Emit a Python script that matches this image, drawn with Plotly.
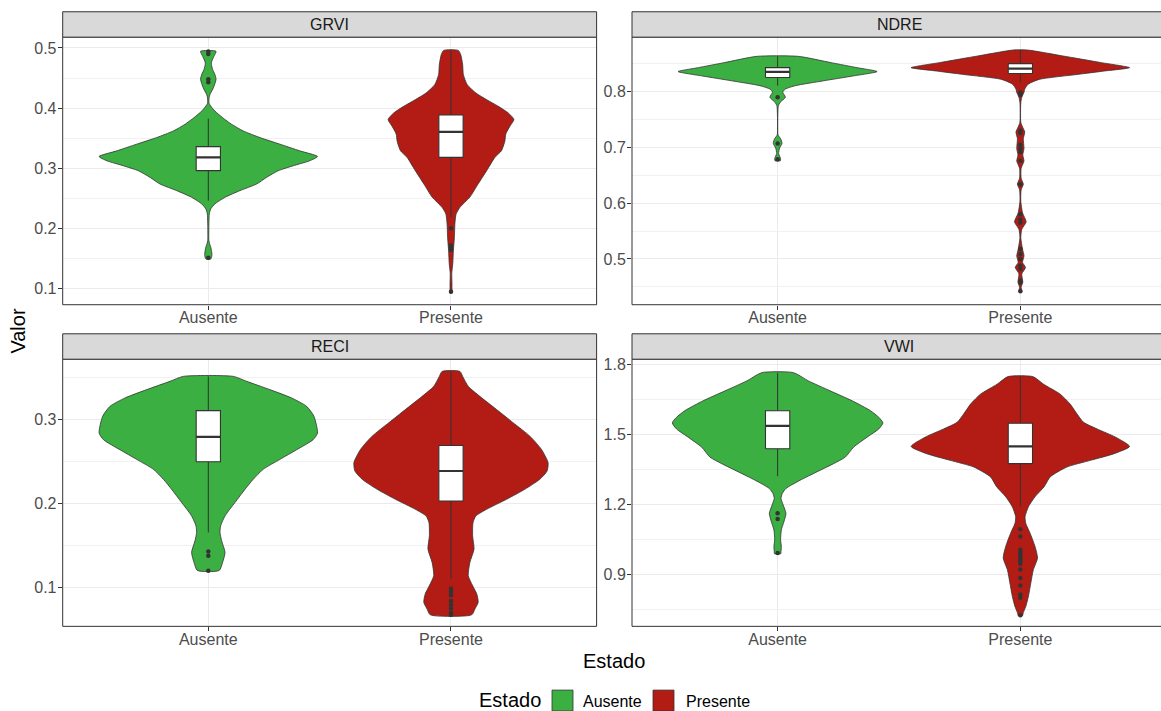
import plotly.graph_objects as go

W, H = 1161, 711

CATEGORIES = ["Ausente", "Presente"]
INDICES = ["GRVI", "NDRE", "RECI", "VWI"]
FILL = {"Ausente": "#3BAF42", "Presente": "#B31C14"}

# ---- violin density profiles: value grid and density relative to the panel maximum ----
grvi_aus_val = [0.149, 0.155, 0.163, 0.169, 0.175, 0.180, 0.205, 0.218, 0.224, 0.2323, 0.2406,
                0.2517, 0.2627, 0.2737, 0.2848, 0.2958, 0.3041, 0.3124, 0.3195, 0.3289, 0.3400,
                0.3510, 0.3620, 0.3731, 0.3841, 0.3951, 0.4034, 0.408, 0.417, 0.423, 0.434,
                0.448, 0.457, 0.464, 0.475, 0.486, 0.4945]
grvi_aus_den = [0.022, 0.033, 0.029, 0.022, 0.011, 0.005, 0.005, 0.007, 0.009, 0.022, 0.06,
                0.153, 0.289, 0.442, 0.533, 0.64, 0.778, 0.929, 1.0, 0.838, 0.656,
                0.473, 0.32, 0.213, 0.131, 0.06, 0.022, 0.007, 0.007, 0.016, 0.047,
                0.071, 0.058, 0.04, 0.027, 0.051, 0.071]
grvi_pre_val = [0.093, 0.100, 0.108, 0.125, 0.141, 0.163, 0.185, 0.208, 0.224, 0.235, 0.252,
                0.274, 0.296, 0.318, 0.329, 0.345, 0.357, 0.370, 0.381, 0.392, 0.403, 0.414,
                0.425, 0.439, 0.456, 0.472, 0.489, 0.496]
grvi_pre_den = [0.011, 0.009, 0.009, 0.007, 0.016, 0.022, 0.031, 0.036, 0.047, 0.082, 0.173,
                0.249, 0.327, 0.402, 0.462, 0.493, 0.502, 0.54, 0.576, 0.524, 0.433, 0.327,
                0.229, 0.149, 0.113, 0.107, 0.089, 0.067]

ndre_aus_val = [0.676, 0.680, 0.689, 0.699, 0.707, 0.716, 0.722, 0.770, 0.775, 0.781, 0.790,
                0.799, 0.8047, 0.8107, 0.8195, 0.828, 0.836, 0.843, 0.852, 0.8633]
ndre_aus_den = [0.024, 0.027, 0.009, 0.018, 0.04, 0.027, 0.004, 0.004, 0.007, 0.024, 0.071,
                0.047, 0.071, 0.162, 0.422, 0.687, 0.911, 0.727, 0.489, 0.191]
ndre_pre_val = [0.4423, 0.4494, 0.4583, 0.4732, 0.4849, 0.4938, 0.5057, 0.5176, 0.5382, 0.5531,
                0.5666, 0.5826, 0.6034, 0.6241, 0.6341, 0.6448, 0.6625, 0.6757, 0.6863, 0.698,
                0.7158, 0.7277, 0.7366, 0.745, 0.780, 0.790, 0.7987, 0.8046, 0.8135, 0.822,
                0.831, 0.837, 0.843, 0.852, 0.864, 0.8746]
ndre_pre_den = [0.013, 0.007, 0.022, 0.013, 0.047, 0.02, 0.033, 0.02, 0.004, 0.013,
                0.053, 0.02, 0.004, 0.007, 0.027, 0.007, 0.007, 0.033, 0.022, 0.033,
                0.027, 0.04, 0.02, 0.004, 0.004, 0.013, 0.033, 0.04, 0.073, 0.173,
                0.529, 0.769, 1.0, 0.742, 0.389, 0.067]

reci_aus_val = [0.120, 0.1296, 0.1415, 0.1554, 0.1653, 0.1732, 0.1851, 0.201, 0.2168, 0.2287,
                0.2406, 0.2525, 0.264, 0.276, 0.284, 0.304, 0.3158, 0.3258, 0.3357, 0.3456, 0.3515]
reci_aus_den = [0.1, 0.131, 0.153, 0.122, 0.107, 0.113, 0.153, 0.244, 0.336, 0.411,
                0.502, 0.656, 0.809, 0.96, 1.0, 0.967, 0.9, 0.762, 0.564, 0.351, 0.229]
reci_pre_val = [0.067, 0.0742, 0.0821, 0.092, 0.1019, 0.1138, 0.1296, 0.1455, 0.1613, 0.1772,
                0.1851, 0.193, 0.2049, 0.2168, 0.2287, 0.2386, 0.2485, 0.2643, 0.2802, 0.296,
                0.3119, 0.3277, 0.3396, 0.3515, 0.3574]
reci_pre_den = [0.189, 0.22, 0.249, 0.236, 0.198, 0.158, 0.173, 0.211, 0.198, 0.202,
                0.229, 0.327, 0.509, 0.676, 0.813, 0.88, 0.889, 0.829, 0.722, 0.571,
                0.418, 0.264, 0.158, 0.107, 0.082]

vwi_aus_val = [0.988, 0.9979, 1.0192, 1.0477, 1.0903, 1.1259, 1.1615, 1.197, 1.2255, 1.2468,
               1.2681, 1.3037, 1.3393, 1.3748, 1.4033, 1.446, 1.4886, 1.5242, 1.55, 1.574,
               1.6024, 1.6451, 1.6878, 1.7304, 1.766]
vwi_aus_den = [0.029, 0.031, 0.034, 0.027, 0.034, 0.058, 0.076, 0.051, 0.031, 0.043,
               0.076, 0.206, 0.358, 0.512, 0.62, 0.696, 0.819, 0.926, 0.964, 0.926,
               0.85, 0.682, 0.481, 0.282, 0.145]
vwi_pre_val = [0.7205, 0.7347, 0.7632, 0.8058, 0.8627, 0.9196, 0.9694, 1.0192, 1.0761, 1.1188,
               1.1472, 1.19, 1.2326, 1.2753, 1.3179, 1.3606, 1.389, 1.4175, 1.4488, 1.4886,
               1.5242, 1.5526, 1.5882, 1.6309, 1.6735, 1.7162, 1.749]
vwi_pre_den = [0.018, 0.027, 0.051, 0.074, 0.096, 0.119, 0.157, 0.134, 0.089, 0.049,
               0.043, 0.074, 0.134, 0.217, 0.273, 0.427, 0.642, 0.857, 1.0, 0.872,
               0.702, 0.579, 0.519, 0.456, 0.365, 0.213, 0.114]

# ---- box statistics per index, [Ausente, Presente] ----
grvi_q1 = [0.296, 0.318]
grvi_med = [0.318, 0.3604]
grvi_q3 = [0.336, 0.3885]
grvi_lo = [0.246, 0.2185]
grvi_hi = [0.3825, 0.496]

ndre_q1 = [0.8254, 0.8325]
ndre_med = [0.8355, 0.8414]
ndre_q3 = [0.843, 0.8503]
ndre_lo = [0.8107, 0.8165]
ndre_hi = [0.8633, 0.8746]

reci_q1 = [0.2497, 0.2029]
reci_med = [0.2794, 0.2386]
reci_q3 = [0.3107, 0.2691]
reci_lo = [0.1653, 0.1098]
reci_hi = [0.3515, 0.3574]

vwi_q1 = [1.4388, 1.3748]
vwi_med = [1.537, 1.4488]
vwi_q3 = [1.6024, 1.5484]
vwi_lo = [1.3208, 1.1927]
vwi_hi = [1.766, 1.749]

# ---- outliers ----
grvi_out_aus = [0.494, 0.490, 0.448, 0.443, 0.151]
grvi_out_pre = [0.200, 0.1716, 0.168, 0.1645, 0.0944]
ndre_out_aus = [0.790, 0.707, 0.6787]
ndre_out_pre = [0.7987, 0.794, 0.730, 0.726, 0.705, 0.698, 0.692, 0.676, 0.634, 0.580,
                0.571, 0.565, 0.518, 0.509, 0.500, 0.488, 0.482, 0.461, 0.458, 0.442]
reci_out_aus = [0.1427, 0.1376, 0.1197]
reci_out_pre = [0.0985, 0.0945, 0.0905, 0.0835, 0.079, 0.0745, 0.0695, 0.067]
vwi_out_aus = [1.1615, 1.137, 0.9907]
vwi_out_pre = [1.0932, 1.0619, 1.005, 0.995, 0.985, 0.975, 0.965, 0.955, 0.945, 0.92,
               0.884, 0.8514, 0.813, 0.799, 0.7233]

# y tick setup per index
Y_TICKS = {"GRVI": (0.1, 0.05), "NDRE": (0.1, 0.05), "RECI": (0.1, 0.05), "VWI": (0.3, 0.15)}
Y_RANGE = {"GRVI": [0.073, 0.518], "NDRE": [0.418, 0.8977],
           "RECI": [0.0533, 0.372], "VWI": [0.6757, 1.8238]}

data = {
    "GRVI": dict(violin=[(grvi_aus_val, grvi_aus_den), (grvi_pre_val, grvi_pre_den)],
                 box=(grvi_q1, grvi_med, grvi_q3, grvi_lo, grvi_hi),
                 out=[grvi_out_aus, grvi_out_pre]),
    "NDRE": dict(violin=[(ndre_aus_val, ndre_aus_den), (ndre_pre_val, ndre_pre_den)],
                 box=(ndre_q1, ndre_med, ndre_q3, ndre_lo, ndre_hi),
                 out=[ndre_out_aus, ndre_out_pre]),
    "RECI": dict(violin=[(reci_aus_val, reci_aus_den), (reci_pre_val, reci_pre_den)],
                 box=(reci_q1, reci_med, reci_q3, reci_lo, reci_hi),
                 out=[reci_out_aus, reci_out_pre]),
    "VWI": dict(violin=[(vwi_aus_val, vwi_aus_den), (vwi_pre_val, vwi_pre_den)],
                box=(vwi_q1, vwi_med, vwi_q3, vwi_lo, vwi_hi),
                out=[vwi_out_aus, vwi_out_pre]),
}

# ---- page geometry (pixels) ----
VIOLIN_WIDTH = 0.9
BOX_WIDTH = 0.1
INK = "#333333"
GRID = "#EBEBEB"
FONT = "Liberation Sans, Arial, sans-serif"

COL_X = [(62.7, 596.6), (632.0, 1166.0)]
ROW_Y = [(34.3, 303.0), (357.7, 626.0)]   # plot area top/bottom
STRIP_H = 25.5
LAYOUT = {"GRVI": (0, 0), "NDRE": (0, 1), "RECI": (1, 0), "VWI": (1, 1)}


def px(x):
    return x / W


def py(y):
    return 1 - y / H


fig = go.Figure()
layout_axes = {}
shapes = []
annotations = []

for k, name in enumerate(INDICES):
    r, c = LAYOUT[name]
    ax = "" if k == 0 else str(k + 1)
    xref, yref = "x" + ax, "y" + ax
    x0, x1 = COL_X[c]
    top, bottom = ROW_Y[r]
    vis_x1 = min(x1, W)
    unit = (x1 - x0) / 2.2
    xr = [0.4, 0.4 + (vis_x1 - x0) / unit]
    common = dict(xaxis=xref, yaxis=yref, showlegend=False, hoverinfo="skip")

    d = data[name]
    # violins
    for i, cat in enumerate(CATEGORIES):
        vals, dens = d["violin"][i]
        ctr = i + 1
        half = [VIOLIN_WIDTH / 2 * v for v in dens]
        xs = [ctr + h for h in half] + [ctr - h for h in reversed(half)]
        ys = list(vals) + list(reversed(vals))
        xs.append(xs[0])
        ys.append(ys[0])
        fig.add_trace(go.Scatter(
            x=xs, y=ys, mode="lines", fill="toself", fillcolor=FILL[cat],
            line=dict(color=INK, width=0.8, shape="spline", smoothing=0.6), **common))

    q1, med, q3, lo, hi = d["box"]
    hb = BOX_WIDTH / 2
    # whiskers
    wx, wy = [], []
    for i in range(2):
        ctr = i + 1
        wx += [ctr, ctr, None, ctr, ctr, None]
        wy += [lo[i], q1[i], None, q3[i], hi[i], None]
    fig.add_trace(go.Scatter(x=wx, y=wy, mode="lines",
                             line=dict(color=INK, width=1), **common))
    # boxes (white, from the quartiles)
    for i in range(2):
        ctr = i + 1
        fig.add_trace(go.Scatter(
            x=[ctr - hb, ctr + hb, ctr + hb, ctr - hb, ctr - hb],
            y=[q1[i], q1[i], q3[i], q3[i], q1[i]],
            mode="lines", fill="toself", fillcolor="white",
            line=dict(color=INK, width=1.1), **common))
    # median bars
    mx, my = [], []
    for i in range(2):
        mx += [i + 1 - hb, i + 1 + hb, None]
        my += [med[i], med[i], None]
    fig.add_trace(go.Scatter(x=mx, y=my, mode="lines",
                             line=dict(color=INK, width=2.2), **common))
    # outliers
    ox, oy = [], []
    for i in range(2):
        ox += [i + 1] * len(d["out"][i])
        oy += list(d["out"][i])
    fig.add_trace(go.Scatter(x=ox, y=oy, mode="markers",
                             marker=dict(color=INK, size=4.5), **common))

    major, minor = Y_TICKS[name]
    layout_axes["xaxis" + ax] = dict(
        domain=[px(x0), px(vis_x1)], range=xr, anchor=yref,
        tickmode="array", tickvals=[1, 2], ticktext=CATEGORIES,
        ticks="outside", ticklen=4, tickcolor=INK, tickwidth=1, ticklabelstandoff=-6,
        showgrid=True, gridcolor=GRID, gridwidth=1, zeroline=False, showline=False,
        tickfont=dict(family=FONT, size=16, color="#4D4D4D"), fixedrange=True)
    layout_axes["yaxis" + ax] = dict(
        domain=[py(bottom), py(top)], range=Y_RANGE[name], anchor=xref,
        tickmode="linear", tick0=0, dtick=major, tickformat=".1f",
        ticks="outside", ticklen=4, tickcolor=INK, tickwidth=1, ticklabelstandoff=-2,
        showgrid=True, gridcolor=GRID, gridwidth=1, zeroline=False, showline=False,
        minor=dict(tick0=0, dtick=minor, showgrid=True, gridcolor="#F1F1F1", gridwidth=0.8),
        tickfont=dict(family=FONT, size=16, color="#4D4D4D"), fixedrange=True)

    # panel border
    shapes.append(dict(type="rect", xref="paper", yref="paper",
                       x0=px(x0), x1=px(x1), y0=py(bottom), y1=py(top),
                       line=dict(color=INK, width=1), fillcolor="rgba(0,0,0,0)", layer="above"))
    # strip
    shapes.append(dict(type="rect", xref="paper", yref="paper",
                       x0=px(x0), x1=px(x1), y0=py(top), y1=py(top - STRIP_H),
                       line=dict(color=INK, width=1), fillcolor="#D9D9D9", layer="above"))
    annotations.append(dict(text=name, xref="paper", yref="paper",
                            x=px((x0 + x1) / 2), y=py(top - STRIP_H / 2),
                            showarrow=False, xanchor="center", yanchor="middle",
                            font=dict(family=FONT, size=16, color="#1A1A1A")))

# axis titles
annotations.append(dict(text="Valor", xref="paper", yref="paper", x=px(18), y=py(329),
                        textangle=-90, showarrow=False, xanchor="center", yanchor="middle",
                        font=dict(family=FONT, size=20, color="black")))
annotations.append(dict(text="Estado", xref="paper", yref="paper", x=px(614), y=py(661),
                        showarrow=False, xanchor="center", yanchor="middle",
                        font=dict(family=FONT, size=20, color="black")))

# legend
LEG_Y = 700
annotations.append(dict(text="Estado", xref="paper", yref="paper", x=px(543), y=py(LEG_Y),
                        showarrow=False, xanchor="right", yanchor="middle",
                        font=dict(family=FONT, size=20, color="black")))
key_x = [552, 653]
label_x = [581, 684]
for i, cat in enumerate(CATEGORIES):
    shapes.append(dict(type="rect", xref="paper", yref="paper",
                       x0=px(key_x[i]), x1=px(key_x[i] + 21),
                       y0=py(LEG_Y + 11), y1=py(LEG_Y - 10),
                       line=dict(color=INK, width=0.8), fillcolor=FILL[cat], layer="above"))
    annotations.append(dict(text=cat, xref="paper", yref="paper", x=px(label_x[i]),
                            y=py(LEG_Y + 1), showarrow=False, xanchor="left",
                            yanchor="middle",
                            font=dict(family=FONT, size=16, color="black")))

fig.update_layout(
    width=W, height=H, autosize=False,
    margin=dict(l=0, r=0, t=0, b=0),
    paper_bgcolor="white", plot_bgcolor="white",
    showlegend=False,
    shapes=shapes, annotations=annotations,
    **layout_axes)

fig.write_html("out.html", config={"displayModeBar": False})
